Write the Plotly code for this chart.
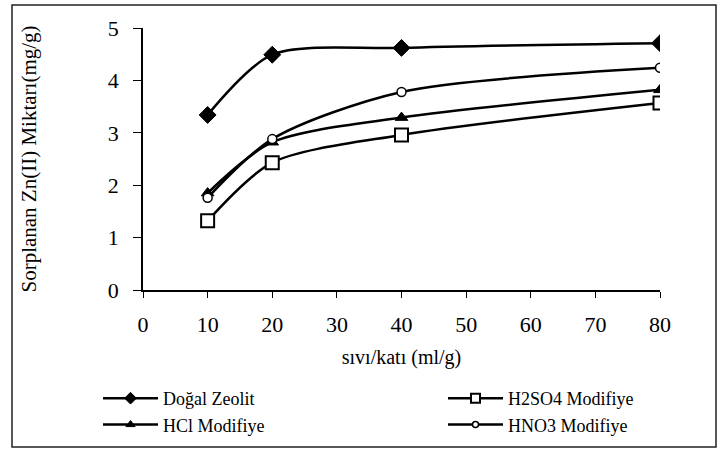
import plotly.graph_objects as go

x_vals = [10, 20, 40, 80]
dogal = [3.34, 4.49, 4.62, 4.71]
h2so4 = [1.32, 2.43, 2.96, 3.57]
hcl = [1.85, 2.82, 3.29, 3.82]
hno3 = [1.76, 2.88, 3.78, 4.24]
names = ["Doğal Zeolit", "H2SO4 Modifiye", "HCl Modifiye", "HNO3 Modifiye"]
x_ticks = [0, 10, 20, 30, 40, 50, 60, 70, 80]
y_ticks = [0, 1, 2, 3, 4, 5]

FONT = "Liberation Serif, Times New Roman, serif"

fig = go.Figure()
series = [
    (names[0], dogal, "legend", dict(symbol="diamond", color="black", lw=1), 13, 9),
    (names[1], h2so4, "legend2", dict(symbol="square", color="white", lw=2), 13, 9),
    (names[2], hcl, "legend", dict(symbol="triangle-up", color="black", lw=1), 11, 8),
    (names[3], hno3, "legend2", dict(symbol="circle", color="white", lw=1.5), 9, 6),
]
for name, yv, leg, mk, size, lsize in series:
    fig.add_trace(go.Scatter(
        x=x_vals, y=yv, name=name, mode="lines+markers", showlegend=False,
        line=dict(color="black", width=2.5, shape="spline", smoothing=0.8),
        marker=dict(symbol=mk["symbol"], size=size, color=mk["color"],
                    line=dict(color="black", width=mk["lw"])),
    ))
    # legend-only entry (no data drawn), with the smaller legend symbol
    fig.add_trace(go.Scatter(
        x=[None], y=[None], name=name, mode="lines+markers", showlegend=True,
        line=dict(color="black", width=2.5),
        marker=dict(symbol=mk["symbol"], size=lsize, color=mk["color"],
                    line=dict(color="black", width=mk["lw"])),
        legend=leg, legendgroup=name,
    ))

W, H = 719, 450
L, R, T, B = 143, 59, 28, 160
pw, ph = W - L - R, H - T - B

def px2paper_x(px):
    return (px - L) / pw

def px2paper_y(py):
    return (H - B - py) / ph

fig.add_shape(type="rect", xref="paper", yref="paper",
              x0=px2paper_x(12), x1=px2paper_x(716),
              y0=px2paper_y(447), y1=px2paper_y(5),
              line=dict(color="#222", width=1.5), fillcolor="rgba(0,0,0,0)")

leg_common = dict(
    orientation="v", xanchor="left", yanchor="top",
    itemwidth=55, font=dict(family=FONT, size=18, color="black"),
    bgcolor="rgba(0,0,0,0)", traceorder="normal", tracegroupgap=11,
    itemsizing="trace",
)

fig.update_layout(
    width=W, height=H,
    margin=dict(l=L, r=R, t=T, b=B, autoexpand=False),
    paper_bgcolor="white", plot_bgcolor="white",
    font=dict(family=FONT, color="black", size=22),
    showlegend=True,
    legend=dict(x=px2paper_x(98), y=px2paper_y(380), **leg_common),
    legend2=dict(x=px2paper_x(443), y=px2paper_y(380), **leg_common),
    xaxis=dict(
        range=[0, 80], tickmode="array", tickvals=x_ticks,
        ticks="outside", ticklen=6, tickwidth=1.2, tickcolor="black",
        showline=True, linecolor="black", linewidth=1.5,
        showgrid=False, zeroline=False, ticklabelstandoff=8,
        tickfont=dict(family=FONT, size=22),
        title=dict(text="sıvı/katı (ml/g)", font=dict(family=FONT, size=20), standoff=14),
        automargin=False,
    ),
    yaxis=dict(
        range=[0, 5], tickmode="array", tickvals=y_ticks,
        ticks="outside", ticklen=8, tickwidth=1.2, tickcolor="black",
        showline=True, linecolor="black", linewidth=1.5,
        showgrid=False, zeroline=False, ticklabelstandoff=10,
        tickfont=dict(family=FONT, size=22),
        title=dict(text="Sorplanan Zn(II) Miktarı(mg/g)", font=dict(family=FONT, size=21), standoff=65),
        automargin=False,
    ),
)

fig.write_html("out.html")
